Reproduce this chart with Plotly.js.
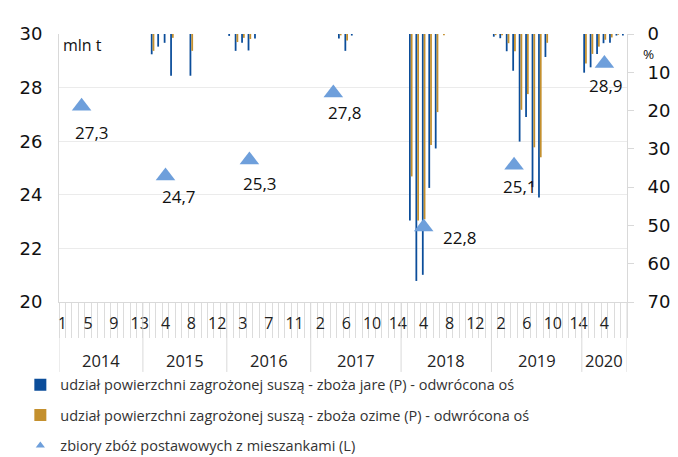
<!DOCTYPE html>
<html>
<head>
<meta charset="utf-8">
<script src="https://cdn.plot.ly/plotly-3.0.1.min.js"></script>
<style>html,body{margin:0;padding:0;background:#fff;}#chart{width:678px;height:457px;}</style>
</head>
<body>
<div id="chart"></div>
<script>
// ---- categories ----
const years = [2014, 2015, 2016, 2017, 2018, 2019, 2020];
const periodsPerYear = [13, 13, 13, 14, 14, 14, 7];

// ---- series (share of area under drought threat, %) ----
const jare = [
  /*2014*/ 0,0,0,0,0,0,0,0,0,0,0,0,0,
  /*2015*/ 0,5.3,3.3,2.3,10.9,0,0,10.9,0,0,0,0,0,
  /*2016*/ 0.5,4.4,2.3,4.3,1.2,0,0,0,0,0,0,0,0,
  /*2017*/ 0,0,0,0,1.2,4.4,0.4,0,0,0,0,0,0,0,
  /*2018*/ 0,48.7,64.5,62.9,40.2,29.9,0,0,0,0,0,0,0,0,
  /*2019*/ 0.7,1.1,4.5,9.6,28.1,21.7,40.0,42.7,6.0,0,0,0,0,0,
  /*2020*/ 10.1,8.7,5.2,2.4,2.3,0.4,0.4
];
const ozime = [
  /*2014*/ 0,0,0,0,0,0,0,0,0,0,0,0,0,
  /*2015*/ 0,4.4,0,0,1.0,0,0,4.4,0,0,0,0,0,
  /*2016*/ 0,2.1,1.0,1.3,0,0,0,0,0,0,0,0,0,
  /*2017*/ 0,0,0,0,0.35,1.7,0,0,0,0,0,0,0,0,
  /*2018*/ 0,37.2,48.7,48.4,29.0,20.4,0.3,0,0,0,0,0,0,0,
  /*2019*/ 0.3,0.3,2.4,4.5,19.8,15.7,29.6,32.2,2.3,0,0,0,0,0,
  /*2020*/ 7.7,5.2,3.3,1.5,0.9,0.2,0
];
// ---- harvest (mln t) ----
const harvestYears = [2014, 2015, 2016, 2017, 2018, 2019, 2020];
const harvestPeriod = [4, 4, 4, 4, 4, 4, 4];
const harvest = [27.3, 24.7, 25.3, 27.8, 22.8, 25.1, 28.9];
const harvestLabels = ["27,3", "24,7", "25,3", "27,8", "22,8", "25,1", "28,9"];

const legendNames = [
  "udział powierzchni zagrożonej suszą - zboża jare (P) - odwrócona oś",
  "udział powierzchni zagrożonej suszą - zboża ozime (P) - odwrócona oś",
  "zbiory zbóż postawowych z mieszankami (L)"
];

// ---- build category index ----
const catYear = [], catPeriod = [];
years.forEach((y, i) => { for (let p = 1; p <= periodsPerYear[i]; p++) { catYear.push(y); catPeriod.push(p); } });
const catIndex = catYear.map((_, i) => i);
const nCat = catIndex.length;
const idxOf = (y, p) => catIndex.find(i => catYear[i] === y && catPeriod[i] === p);
const harvestX = harvestYears.map((y, i) => idxOf(y, harvestPeriod[i]));

const tickvals = catIndex.filter(i => i % 4 === 0);
const ticktext = tickvals.map(i => String(catPeriod[i]));

// year boundaries and centers
const bounds = [-0.5];
const centers = [];
let acc = 0;
periodsPerYear.forEach(n => { centers.push(acc + (n - 1) / 2); acc += n; bounds.push(acc - 0.5); });

const FONT = "Open Sans, Noto Sans, sans-serif";
const BLUE = "#0b4d9a", GOLD = "#c4902e", TRI = "#6e9fdb";

const traces = [
  { type: "bar", x: catIndex, y: jare, yaxis: "y", name: legendNames[0], legendgroup: "a",
    marker: { color: BLUE }, hoverinfo: "skip" },
  { type: "bar", x: catIndex, y: ozime, yaxis: "y", name: legendNames[1], legendgroup: "b",
    marker: { color: GOLD }, hoverinfo: "skip" },
  { type: "scatter", mode: "markers", x: harvestX, y: harvest, yaxis: "y2", showlegend: false,
    marker: { symbol: "triangle-up", size: 17, color: TRI }, hoverinfo: "skip" },
  { type: "scatter", mode: "markers", x: [null], y: [null], yaxis: "y2", name: legendNames[2], legendgroup: "c",
    marker: { symbol: "triangle-up", size: 8, color: TRI } }
];

const dx = [10, 13, 11, 12, 36, 6, 2];
const dy = [-26, -20, -24, -20, -11, -21, -22];
const annotations = harvest.map((v, i) => ({
  x: harvestX[i], y: v, xref: "x", yref: "y2", text: harvestLabels[i], showarrow: false,
  xshift: dx[i], yshift: dy[i], font: { family: FONT, size: 17, color: "#111" }
}));
centers.forEach((c, i) => annotations.push({
  x: c, y: -0.22, xref: "x", yref: "paper", text: String(years[i]), showarrow: false,
  yanchor: "middle", font: { family: FONT, size: 16.5, color: "#222" }
}));
annotations.push({ x: 0, y: 1, xref: "paper", yref: "paper", xanchor: "left", yanchor: "top",
  xshift: 2, yshift: 2, text: "mln t", showarrow: false, font: { family: FONT, size: 16, color: "#111" } });
annotations.push({ x: 1, y: 1, xref: "paper", yref: "paper", xanchor: "left", yanchor: "middle",
  xshift: 14, yshift: -19.5, text: "%", showarrow: false, font: { family: FONT, size: 13.5, color: "#111" } });

const shapes = bounds.map(b => ({
  type: "line", xref: "x", yref: "paper", x0: b, x1: b, y0: 0, y1: -0.261,
  line: { color: "#d9d9d9", width: 1 }
}));

const layout = {
  width: 678, height: 457,
  margin: { l: 59, r: 51, t: 34, b: 155, autoexpand: false },
  paper_bgcolor: "#fff", plot_bgcolor: "#fff",
  font: { family: FONT, color: "#111" },
  barmode: "group", bargap: 0.45, bargroupgap: 0,
  showlegend: true,
  legend: { orientation: "v", xref: "container", yref: "container", x: 0.03, xanchor: "left",
    y: 0.193, yanchor: "top",
    traceorder: "grouped", tracegroupgap: 8.5, font: { family: FONT, size: 14.5, color: "#333" },
    bgcolor: "rgba(0,0,0,0)" },
  xaxis: {
    range: [-0.5, nCat - 0.5], showgrid: false, zeroline: false, showline: true, linecolor: "#d9d9d9",
    tickmode: "array", tickvals: tickvals, ticktext: ticktext, ticks: "", ticklabelstandoff: 7,
    tickfont: { family: FONT, size: 16, color: "#222" },
    minor: { tickmode: "linear", tick0: 0.5, dtick: 1, ticks: "outside", ticklen: 35, tickcolor: "#dcdcdc", tickwidth: 1 }
  },
  yaxis: {
    side: "right", range: [70, 0], dtick: 10, showgrid: false, zeroline: false,
    showline: true, linecolor: "#d9d9d9", ticks: "outside", ticklen: 6, tickcolor: "#d9d9d9",
    ticklabelstandoff: 10, tickfont: { family: "DejaVu Sans, sans-serif", size: 18, color: "#111" }
  },
  yaxis2: {
    overlaying: "y", side: "left", range: [20, 30], dtick: 2, showgrid: true, gridcolor: "#ebebeb",
    zeroline: false, showline: true, linecolor: "#d9d9d9", ticks: "", ticklabelstandoff: 12,
    tickfont: { family: "DejaVu Sans, sans-serif", size: 18, color: "#111" }
  },
  annotations: annotations,
  shapes: shapes
};

Plotly.newPlot("chart", traces, layout, { displayModeBar: false, staticPlot: true });
</script>
</body>
</html>
